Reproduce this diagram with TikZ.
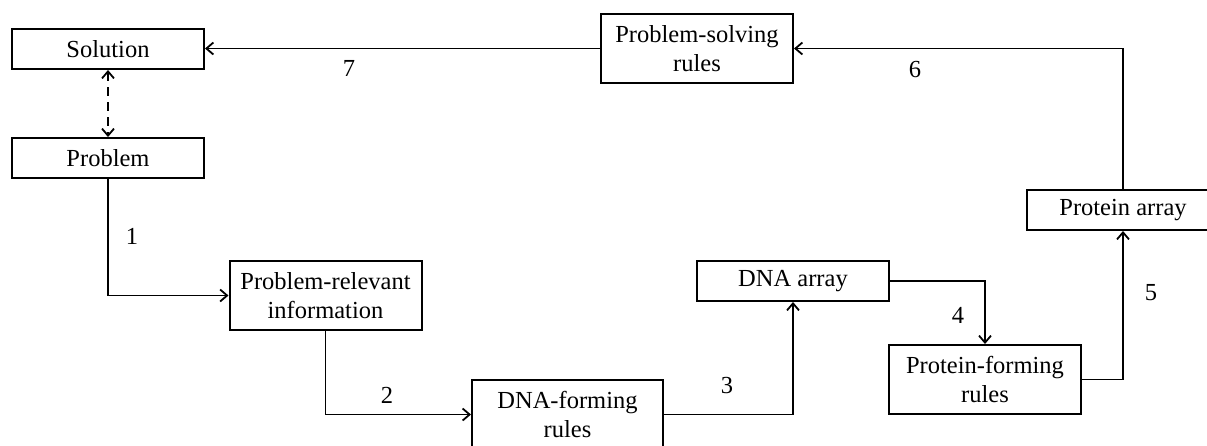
\documentclass[tikz,border=0pt]{standalone}
\usepackage{fontspec}
\setmainfont{Liberation Serif}
\usetikzlibrary{arrows.meta}
\begin{document}
\begin{tikzpicture}[x=1pt,y=-1pt,
  box/.style={draw, line width=2pt, minimum width=192pt, align=center, inner sep=0pt,
              font=\fontsize{24.5}{29}\selectfont},
  onebox/.style={box, minimum height=40pt},
  twobox/.style={box, minimum height=69pt},
  tip/.tip={Straight Barb[length=7pt,width=12pt,line width=1.8pt]},
  conn/.style={line width=1.8pt, -tip},
  lab/.style={font=\fontsize{24.5}{29}\selectfont, inner sep=0pt}]
\useasboundingbox (0,0) rectangle (1207,445);
\clip (0,0) rectangle (1207,445);
\node[onebox] (sol) at (108,49) {Solution};
\node[onebox] (prob) at (108,158) {Problem};
\node[twobox] (psr) at (697,48.5) {Problem-solving\\rules};
\node[twobox] (pri) at (325.5,295.5) {Problem-relevant\\information};
\node[twobox, minimum width=191pt] (dfr) at (567.5,414.5) {DNA-forming\\rules};
\node[onebox] (dna) at (793,281) {DNA array};
\node[twobox] (pfr) at (985,379.5) {Protein-forming\\rules};
\node[onebox] (pa) at (1123,210) {Protein array};

\draw[conn, tip-tip, dash pattern=on 9pt off 6pt] (sol.south) -- (prob.north);
\draw[conn] (prob.south) |- (pri.west);
\draw[conn] (pri.south) |- (dfr.west);
\draw[conn] (dfr.east) -| (dna.south);
\draw[conn] (dna.east) -| (pfr.north);
\draw[conn] (pfr.east) -| (pa.south);
\draw[conn] (pa.north) |- (psr.east);
\draw[conn] (psr.west) -- (sol.east |- psr.west);

\node[lab] (l1) at (132,236) {1};
\node[lab] (l2) at (387,395) {2};
\node[lab] (l3) at (727,386) {3};
\node[lab] (l4) at (958,315) {4};
\node[lab] (l5) at (1151,293) {5};
\node[lab] (l6) at (915,70) {6};
\node[lab] (l7) at (349,68) {7};
\end{tikzpicture}
\end{document}
